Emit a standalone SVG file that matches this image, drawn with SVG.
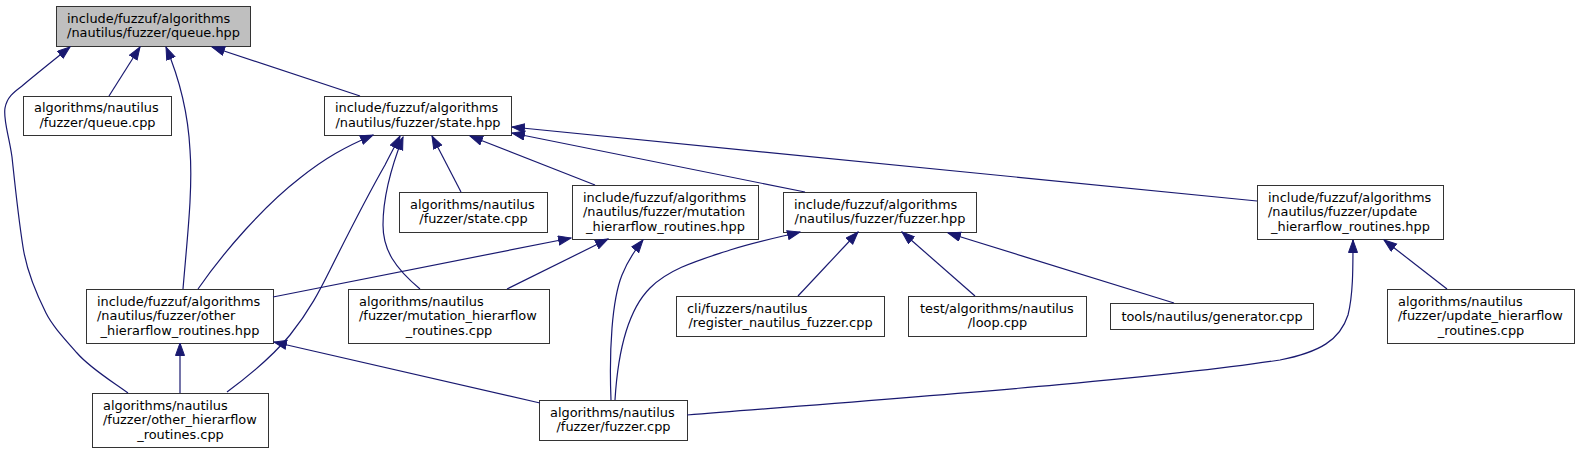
<svg xmlns="http://www.w3.org/2000/svg" width="1580" height="453" viewBox="0 0 1580 453">
<style>
  .bg { fill: #ffffff; }
  .node rect { fill: #ffffff; stroke: #333333; stroke-width: 1; }
  .node.focus rect { fill: #bfbfbf; }
  .node text { font-family: "DejaVu Sans", "Liberation Sans", sans-serif; font-size: 12.9px; fill: #000000; }
  .node text.m { text-anchor: middle; }
  .edges path { fill: none; stroke: #191970; stroke-width: 1.2; marker-end: url(#ah); }
</style>
<defs>
  <marker id="ah" markerUnits="userSpaceOnUse" markerWidth="14" markerHeight="11" refX="13" refY="5" orient="auto">
    <path d="M0.5,0.5 L13,5 L0.5,9.5 Z" fill="#191970" stroke="#191970" stroke-width="1"/>
  </marker>
</defs>
<rect class="bg" x="0" y="0" width="1580" height="453"/>

<g id="node-queue-hpp" class="node focus">
  <rect x="56.5" y="6.5" width="194" height="40"/>
  <text x="67" y="22.5">include/fuzzuf/algorithms</text>
  <text class="m" x="153.5" y="37">/nautilus/fuzzer/queue.hpp</text>
</g>
<g id="node-queue-cpp" class="node">
  <rect x="23.5" y="96.5" width="148" height="39"/>
  <text x="34" y="112">algorithms/nautilus</text>
  <text class="m" x="97.5" y="126.5">/fuzzer/queue.cpp</text>
</g>
<g id="node-state-hpp" class="node">
  <rect x="324.5" y="96.5" width="187" height="39"/>
  <text x="335" y="112">include/fuzzuf/algorithms</text>
  <text class="m" x="418" y="126.5">/nautilus/fuzzer/state.hpp</text>
</g>
<g id="node-state-cpp" class="node">
  <rect x="399.5" y="192.5" width="148" height="40"/>
  <text x="410" y="208.5">algorithms/nautilus</text>
  <text class="m" x="473.5" y="223">/fuzzer/state.cpp</text>
</g>
<g id="node-mutation-hpp" class="node">
  <rect x="572.5" y="185.5" width="186" height="54"/>
  <text x="583" y="201.5">include/fuzzuf/algorithms</text>
  <text x="583" y="216">/nautilus/fuzzer/mutation</text>
  <text class="m" x="665.5" y="230.5">_hierarflow_routines.hpp</text>
</g>
<g id="node-fuzzer-hpp" class="node">
  <rect x="783.5" y="192.5" width="193" height="40"/>
  <text x="794" y="208.5">include/fuzzuf/algorithms</text>
  <text class="m" x="880" y="223">/nautilus/fuzzer/fuzzer.hpp</text>
</g>
<g id="node-update-hpp" class="node">
  <rect x="1257.5" y="185.5" width="186" height="54"/>
  <text x="1268" y="201.5">include/fuzzuf/algorithms</text>
  <text x="1268" y="216">/nautilus/fuzzer/update</text>
  <text class="m" x="1350.5" y="230.5">_hierarflow_routines.hpp</text>
</g>
<g id="node-other-hpp" class="node">
  <rect x="86.5" y="289.5" width="187" height="54"/>
  <text x="97" y="305.5">include/fuzzuf/algorithms</text>
  <text x="97" y="320">/nautilus/fuzzer/other</text>
  <text class="m" x="180" y="334.5">_hierarflow_routines.hpp</text>
</g>
<g id="node-mutation-cpp" class="node">
  <rect x="348.5" y="289.5" width="201" height="54"/>
  <text x="359" y="305.5">algorithms/nautilus</text>
  <text x="359" y="320">/fuzzer/mutation_hierarflow</text>
  <text class="m" x="449" y="334.5">_routines.cpp</text>
</g>
<g id="node-register-cpp" class="node">
  <rect x="676.5" y="296.5" width="208" height="40"/>
  <text x="687" y="312.5">cli/fuzzers/nautilus</text>
  <text class="m" x="780.5" y="327">/register_nautilus_fuzzer.cpp</text>
</g>
<g id="node-loop-cpp" class="node">
  <rect x="908.5" y="296.5" width="178" height="40"/>
  <text x="920" y="312.5">test/algorithms/nautilus</text>
  <text class="m" x="997.5" y="327">/loop.cpp</text>
</g>
<g id="node-generator-cpp" class="node">
  <rect x="1110.5" y="303.5" width="203" height="26"/>
  <text class="m" x="1212" y="320.5">tools/nautilus/generator.cpp</text>
</g>
<g id="node-update-cpp" class="node">
  <rect x="1387.5" y="289.5" width="187" height="54"/>
  <text x="1398" y="305.5">algorithms/nautilus</text>
  <text x="1398" y="320">/fuzzer/update_hierarflow</text>
  <text class="m" x="1481" y="334.5">_routines.cpp</text>
</g>
<g id="node-other-cpp" class="node">
  <rect x="92.5" y="393.5" width="176" height="54"/>
  <text x="103" y="409.5">algorithms/nautilus</text>
  <text x="103" y="424">/fuzzer/other_hierarflow</text>
  <text class="m" x="180.5" y="438.5">_routines.cpp</text>
</g>
<g id="node-fuzzer-cpp" class="node">
  <rect x="539.5" y="400.5" width="148" height="40"/>
  <text x="550" y="416.5">algorithms/nautilus</text>
  <text class="m" x="613.5" y="431">/fuzzer/fuzzer.cpp</text>
</g>

<g id="connectors" class="edges">
  <path d="M128,393 C110,380 90,368 77,353 C62,336 52,325 46,313 C33,287 26,267 23,247 C18,215 15,185 12,157 C9,135 3,120 5,108 C7,97 14,92 22,86 C35,75 50,63 70,47"/>
  <path d="M109,96 L140,47"/>
  <path d="M183,289 C187,240 193,190 190,150 C188,112 180,80 166,47"/>
  <path d="M360,96 L212,47"/>
  <path d="M198,289 C225,250 265,205 300,178 C325,158 345,147 373,135"/>
  <path d="M227,392 C250,375 272,357 290,335 C310,310 320,290 330,270 C345,240 365,200 385,165 C390,155 395,146 400,136"/>
  <path d="M420,289 C395,268 383,250 383,225 C383,195 392,165 403,137"/>
  <path d="M461,192 L432,136"/>
  <path d="M595,185 L470,136"/>
  <path d="M805,192 L512,133"/>
  <path d="M1257,201 L512,127"/>
  <path d="M273,297 L571,238"/>
  <path d="M507,289 L608,239"/>
  <path d="M611,400 C609,350 612,300 622,275 C628,260 635,250 643,240"/>
  <path d="M615,400 C618,350 628,310 650,288 C670,268 700,260 730,250 C755,242 780,237 800,232"/>
  <path d="M798,296 L858,232"/>
  <path d="M975,296 L902,232"/>
  <path d="M1174,303 L948,233"/>
  <path d="M687,415 C900,398 1150,380 1280,360 C1320,352 1340,340 1348,315 C1353,295 1353,270 1353,240"/>
  <path d="M1447,289 L1384,240"/>
  <path d="M180,393 L180,343"/>
  <path d="M540,403 L274,342"/>
</g>
</svg>
